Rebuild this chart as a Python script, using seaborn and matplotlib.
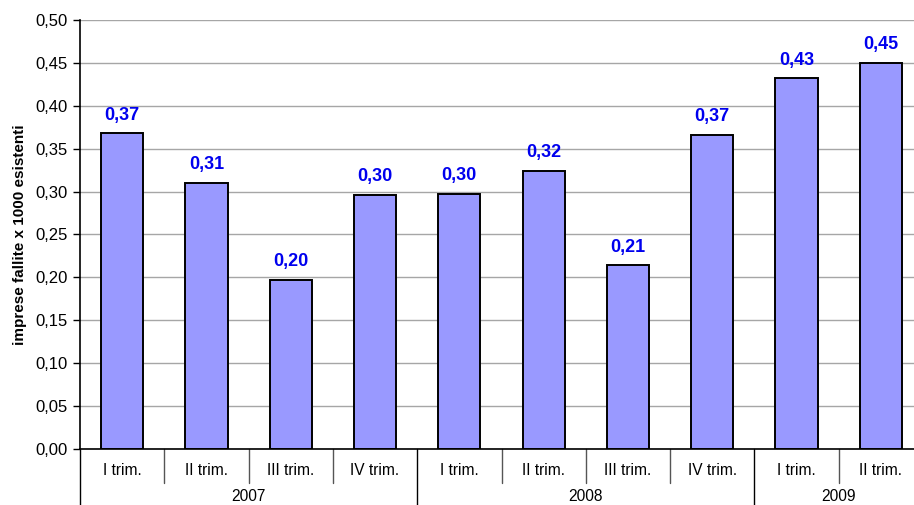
import matplotlib
matplotlib.use("Agg")
import matplotlib.pyplot as plt
import matplotlib.transforms as mtransforms
from matplotlib.ticker import FuncFormatter, MultipleLocator
import pandas as pd
import seaborn as sns

quarters = ["I trim.", "II trim.", "III trim.", "IV trim.",
            "I trim.", "II trim.", "III trim.", "IV trim.",
            "I trim.", "II trim."]
years = ["2007", "2007", "2007", "2007",
         "2008", "2008", "2008", "2008",
         "2009", "2009"]
values = [0.368, 0.310, 0.197, 0.296, 0.297, 0.324, 0.214, 0.366, 0.432, 0.450]

df = pd.DataFrame({"quarter": quarters, "year": years, "value": values})
df["key"] = df["year"] + " " + df["quarter"]

sns.set_theme(style="white")
plt.rcParams["font.family"] = ["Liberation Sans", "DejaVu Sans"]

fig = plt.figure(figsize=(9.14, 5.05), dpi=100)
ax = fig.add_axes([80 / 914, 56 / 505, 843 / 914, 429 / 505])

sns.barplot(data=df, x="key", y="value", color="#9999FF", saturation=1,
            width=0.5, edgecolor="black", linewidth=1.4, ax=ax)

labels = [f"{v:.2f}".replace(".", ",") for v in values]
ax.bar_label(ax.containers[0], labels=labels, padding=7, color="#0000EE",
             fontsize=13, fontweight="bold")

ax.set_ylim(0, 0.5)
ax.set_xlim(-0.5, len(values) - 0.5)
ax.yaxis.set_major_locator(MultipleLocator(0.05))
ax.yaxis.set_major_formatter(FuncFormatter(lambda v, p: f"{v:.2f}".replace(".", ",")))
ax.grid(axis="y", color="#a6a6a6", linewidth=1.0)
ax.set_axisbelow(True)
for s in ["top", "right"]:
    ax.spines[s].set_visible(False)
ax.spines["left"].set_color("black")
ax.spines["bottom"].set_color("black")
ax.spines["left"].set_linewidth(1.2)
ax.spines["bottom"].set_linewidth(1.2)
ax.tick_params(axis="y", left=True, length=5, width=1, color="black",
               labelsize=12, pad=4, labelcolor="black")

ax.set_xticks(range(len(quarters)))
ax.set_xticklabels([])
ax.tick_params(axis="x", bottom=False, length=0)
ax.set_xlabel("")
ax.set_ylabel("imprese fallite x 1000 esistenti", fontsize=11, fontweight="bold",
              color="black", labelpad=6)

trans = mtransforms.blended_transform_factory(ax.transData, ax.transAxes)
for i, q in enumerate(quarters):
    ax.text(i, -0.049, q, transform=trans, ha="center", va="center",
            fontsize=11.2, color="black")

# separators between quarters and years
for i in range(len(quarters) + 1):
    xpos = i - 0.5
    new_year = i == 0 or i == len(quarters) or years[i] != years[i - 1]
    if new_year:
        ax.plot([xpos, xpos], [0, -0.2], transform=trans, color="black",
                linewidth=1.0, clip_on=False)
    else:
        ax.plot([xpos, xpos], [0, -0.079], transform=trans, color="#555555",
                linewidth=1.0, clip_on=False)

for y in dict.fromkeys(years):
    idx = [i for i, yy in enumerate(years) if yy == y]
    center = (idx[0] + idx[-1]) / 2
    ax.text(center, -0.1285, y, transform=trans, ha="center", va="bottom",
            fontsize=11.2, color="black")

fig.savefig("out.png", dpi=100)
